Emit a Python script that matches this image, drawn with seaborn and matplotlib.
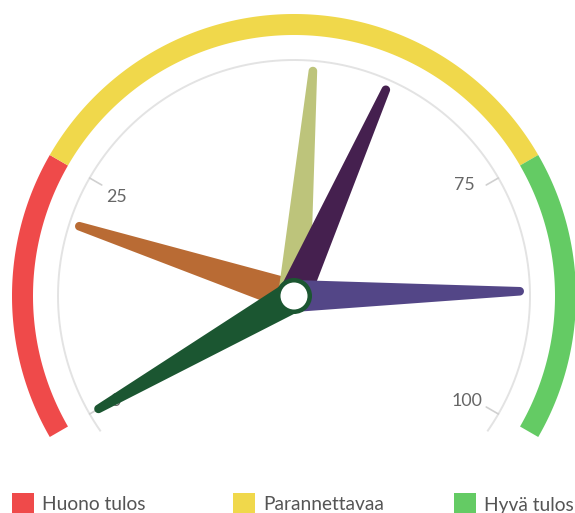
import numpy as np
import matplotlib
matplotlib.use("Agg")
import matplotlib.pyplot as plt
from matplotlib.patches import Rectangle, Circle, Polygon
import seaborn as sns

# Gauge scale, plot bands and dial values
scale_min, scale_max = 0, 100
band_names = ["Huono tulos", "Parannettavaa", "Hyvä tulos"]
band_from = [0, 25, 75]
band_to = [25, 75, 100]
band_colors = ["#ef4a4a", "#f0d84b", "#64cb64"]

tick_values = [0, 25, 75, 100]
tick_labels = ["0", "25", "75", "100"]

needle_values = [20, 52, 60, 87, 0]
needle_colors = ["#b96b34", "#bdc47b", "#45204f", "#534687", "#1b5631"]

sns.set_theme(style="white")
plt.rcParams["font.family"] = ["Lato", "DejaVu Sans"]

W, H = 575, 513
fig = plt.figure(figsize=(W / 100, H / 100), dpi=100)
ax = fig.add_axes([0, 0, 1, 1])
ax.set_xlim(0, W)
ax.set_ylim(H, 0)
ax.axis("off")

cx, cy = 294, 296
start_deg, end_deg = -120, 120


def ang(v):
    frac = (v - scale_min) / (scale_max - scale_min)
    return np.radians(start_deg + (end_deg - start_deg) * frac)


def pt(theta, r):
    return cx + r * np.sin(theta), cy - r * np.cos(theta)


def arc_band(t0, t1, r_in, r_out, n=200):
    ts = np.linspace(t0, t1, n)
    xo, yo = pt(ts, r_out)
    xi, yi = pt(ts[::-1], r_in)
    return np.column_stack([np.concatenate([xo, xi]), np.concatenate([yo, yi])])


# background pane arc
ts = np.linspace(np.radians(-125), np.radians(125), 300)
gx, gy = pt(ts, 236)
ax.plot(gx, gy, color="#e3e3e3", lw=1.4, zorder=1, solid_capstyle="butt")

# colored plot bands
for b0, b1, col in zip(band_from, band_to, band_colors):
    ax.add_patch(Polygon(arc_band(ang(b0), ang(b1), 261, 282), closed=True,
                         facecolor=col, edgecolor="none", zorder=2))

# ticks and labels (small per-side nudges for the label boxes)
label_nudge = {"0": (-3, 4), "25": (-2, 3), "75": (-5, -9), "100": (-3, 4)}
for v, lab in zip(tick_values, tick_labels):
    t = ang(v)
    x0, y0 = pt(t, 236)
    x1, y1 = pt(t, 222)
    ax.plot([x0, x1], [y0, y1], color="#d0d0d0", lw=1.2, zorder=1)
    lx, ly = pt(t, 203)
    nx, ny = label_nudge[lab]
    ax.text(lx + nx, ly + ny, lab, ha="center", va="center", fontsize=12.8,
            color="#666666", zorder=1)


def needle_poly(value, length=230, hw_base=16, hw_tip=4.3):
    t = ang(value)
    ux, uy = np.sin(t), -np.cos(t)
    px, py = -uy, ux
    pts = [(cx + px * hw_base, cy + py * hw_base)]
    tcx, tcy = cx + ux * (length - hw_tip), cy + uy * (length - hw_tip)
    for a in np.linspace(0, np.pi, 24):
        dx = px * np.cos(a) + ux * np.sin(a)
        dy = py * np.cos(a) + uy * np.sin(a)
        pts.append((tcx + hw_tip * dx, tcy + hw_tip * dy))
    pts.append((cx - px * hw_base, cy - py * hw_base))
    return np.array(pts)


for i, (v, col) in enumerate(zip(needle_values, needle_colors)):
    ax.add_patch(Polygon(needle_poly(v), closed=True, facecolor=col,
                         edgecolor="none", zorder=3 + i))

# hub
ax.add_patch(Circle((cx, cy), 18, facecolor="#1b5631", edgecolor="none", zorder=10))
ax.add_patch(Circle((cx, cy), 13.5, facecolor="white", edgecolor="none", zorder=11))

# legend
leg_x = [12, 233, 454]
for x, name, col in zip(leg_x, band_names, band_colors):
    ax.add_patch(Rectangle((x, 493), 22, 22, facecolor=col, edgecolor="none", zorder=2))
    ax.text(x + 30, 510.5, name, ha="left", va="baseline", fontsize=13.8,
            color="#555555", zorder=2)

fig.savefig("out.png", dpi=100)
